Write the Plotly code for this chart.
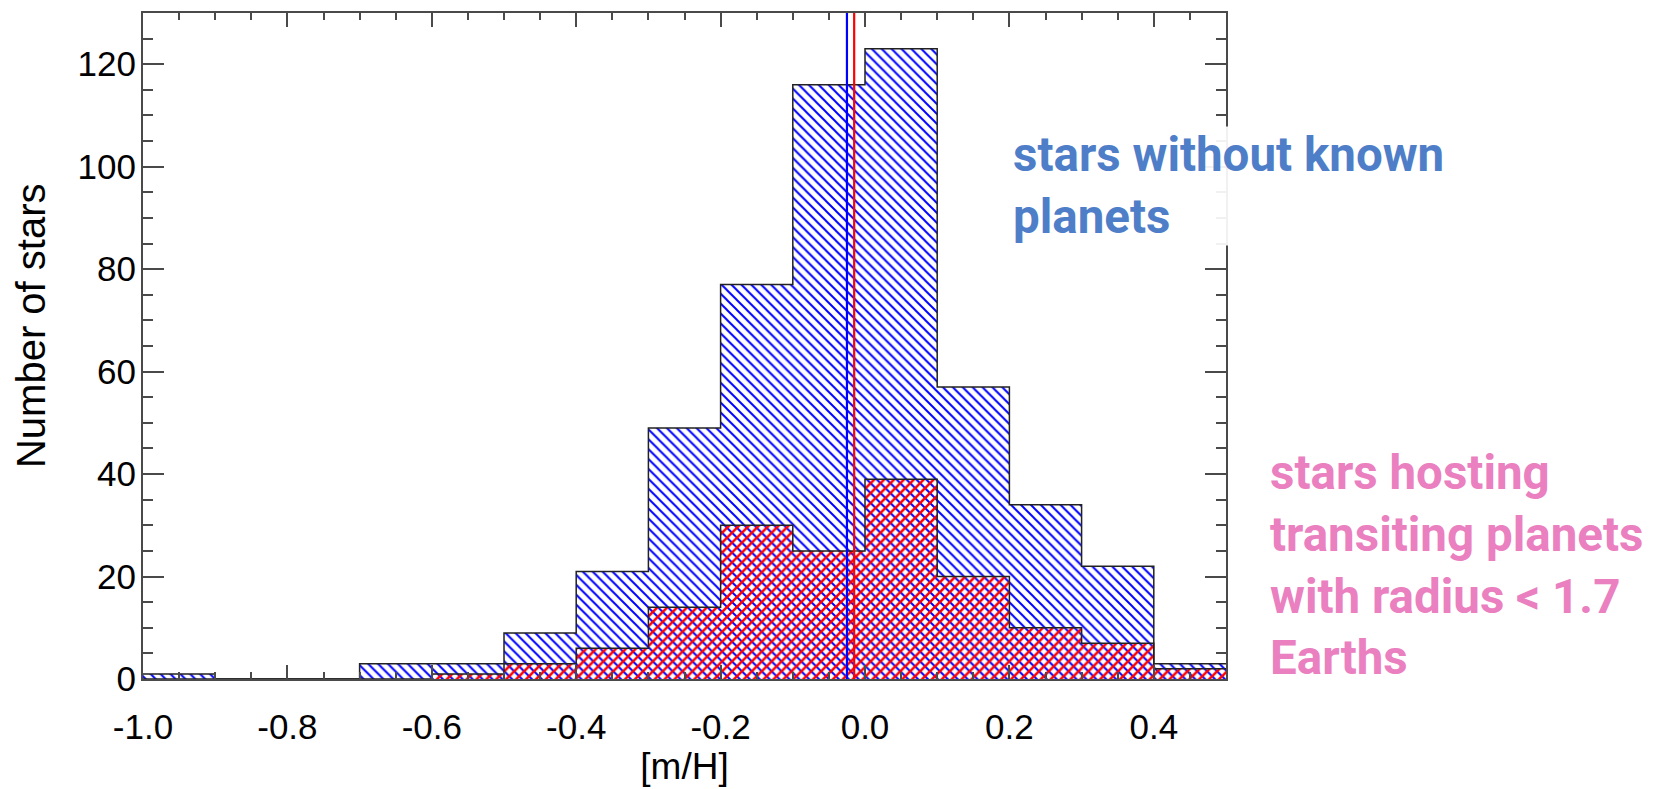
import plotly.graph_objects as go

# Metallicity histogram: bin left edges (width 0.1 dex) and counts per bin
bin_left = [-1.0, -0.9, -0.8, -0.7, -0.6, -0.5, -0.4, -0.3, -0.2, -0.1, 0.0, 0.1, 0.2, 0.3, 0.4]
bin_width = 0.1
counts_no_planets = [1, 0, 0, 3, 3, 9, 21, 49, 77, 116, 123, 57, 34, 22, 3]
counts_transiting = [0, 0, 0, 0, 1, 3, 6, 14, 30, 25, 39, 20, 10, 7, 2]

# Mean [m/H] of each sample
mean_no_planets = -0.025
mean_transiting = -0.015

x_tick_vals = [-1.0, -0.8, -0.6, -0.4, -0.2, 0.0, 0.2, 0.4]
x_tick_text = ["-1.0", "-0.8", "-0.6", "-0.4", "-0.2", "0.0", "0.2", "0.4"]
y_tick_vals = [0, 20, 40, 60, 80, 100, 120]
y_tick_text = ["0", "20", "40", "60", "80", "100", "120"]

BLUE = "#0000ff"
RED = "#ff0000"
FRAME = "#4a4a4a"
TICK_FONT = "Liberation Sans"

centers = [b + bin_width / 2 for b in bin_left]
step_x = bin_left + [bin_left[-1] + bin_width]
y_top = 130

fig = go.Figure()

# Hatched fills
fig.add_trace(go.Bar(
    x=centers, y=counts_no_planets, width=bin_width,
    marker=dict(color="white", line=dict(width=0),
                pattern=dict(shape="\\", fgcolor=BLUE, bgcolor="white",
                             size=7, solidity=0.28, fillmode="replace")),
    hoverinfo="skip", showlegend=False))
fig.add_trace(go.Bar(
    x=centers, y=counts_transiting, width=bin_width,
    marker=dict(color="rgba(0,0,0,0)", line=dict(width=0),
                pattern=dict(shape="/", fgcolor=RED, bgcolor="rgba(0,0,0,0)",
                             size=7, solidity=0.36, fillmode="replace")),
    hoverinfo="skip", showlegend=False))

# Step outlines of both histograms
for counts in (counts_no_planets, counts_transiting):
    fig.add_trace(go.Scatter(
        x=step_x, y=counts + [counts[-1]], mode="lines",
        line=dict(color="#222222", width=1.5, shape="hv"),
        hoverinfo="skip", showlegend=False))

# Mean lines
fig.add_trace(go.Scatter(x=[mean_no_planets, mean_no_planets], y=[0, y_top], mode="lines",
                         line=dict(color=BLUE, width=2.2), hoverinfo="skip", showlegend=False))
fig.add_trace(go.Scatter(x=[mean_transiting, mean_transiting], y=[0, y_top], mode="lines",
                         line=dict(color=RED, width=2.2), hoverinfo="skip", showlegend=False))

fig.update_layout(
    width=1657, height=789,
    margin=dict(l=143, r=431, t=11, b=96),
    paper_bgcolor="white", plot_bgcolor="white",
    barmode="overlay", bargap=0,
    font=dict(family=TICK_FONT, color="black"),
)

fig.update_xaxes(
    range=[-1.0, 0.5], tickvals=x_tick_vals, ticktext=x_tick_text,
    ticks="inside", ticklen=14, tickwidth=2, tickcolor=FRAME,
    minor=dict(ticks="inside", dtick=0.05, tick0=-1.0, ticklen=7, tickwidth=1.5,
               tickcolor=FRAME, showgrid=False),
    showline=True, linecolor=FRAME, linewidth=2, mirror="allticks",
    showgrid=False, zeroline=False,
    tickfont=dict(family=TICK_FONT, size=35, color="black"),
    ticklabelstandoff=16,
    title=dict(text="[m/H]", font=dict(family=TICK_FONT, size=37, color="black"), standoff=6),
)

fig.update_yaxes(
    range=[0, y_top], tickvals=y_tick_vals, ticktext=y_tick_text,
    ticks="inside", ticklen=21, tickwidth=2, tickcolor=FRAME,
    minor=dict(ticks="inside", dtick=5, tick0=0, ticklen=10, tickwidth=1.5,
               tickcolor=FRAME, showgrid=False),
    showline=True, linecolor=FRAME, linewidth=2, mirror="allticks",
    showgrid=False, zeroline=False,
    tickfont=dict(family=TICK_FONT, size=35, color="black"),
    ticklabelstandoff=-2,
)

# Y-axis title placed beside the tick labels
fig.add_annotation(
    xref="paper", yref="paper", x=-0.104, y=0.5305, xanchor="center", yanchor="middle",
    text="Number of stars", textangle=-90, showarrow=False,
    font=dict(family=TICK_FONT, size=40, color="black"),
)

fig.add_annotation(
    xref="paper", yref="paper", x=0.8027, y=0.740, xanchor="left", yanchor="middle",
    text="stars without known<br>planets", align="left", showarrow=False,
    font=dict(family="Roboto", size=47.5, color="#4f7ec8", weight="bold"),
    bgcolor="rgba(255,255,255,0.92)", borderpad=0,
)
fig.add_annotation(
    xref="paper", yref="paper", x=1.039, y=0.170, xanchor="left", yanchor="middle",
    text="stars hosting<br>transiting planets<br>with radius &lt; 1.7<br>Earths", align="left",
    showarrow=False,
    font=dict(family="Roboto", size=47.5, color="#ea80bf", weight="bold"),
)

fig.write_html("out.html")
